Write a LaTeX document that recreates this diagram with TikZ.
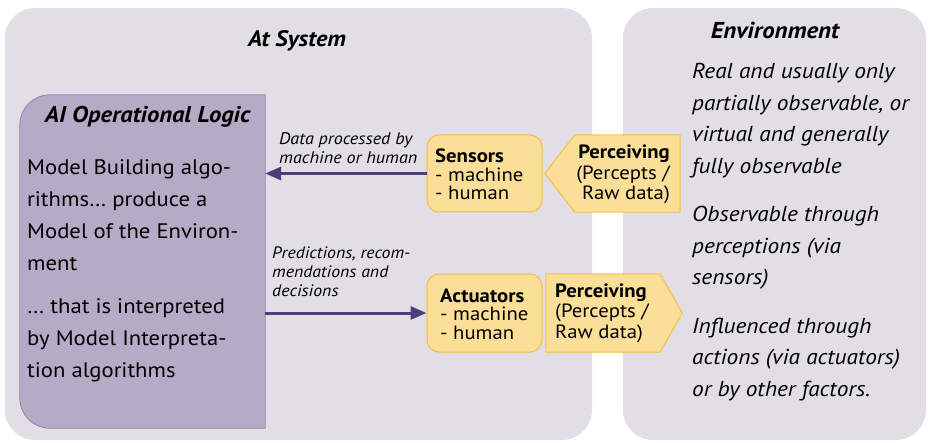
\documentclass[tikz,border=0pt]{standalone}
\usepackage{fontspec}
\setmainfont{PT Sans}[FakeStretch=1.08]
\usetikzlibrary{arrows.meta}
\definecolor{panelc}{HTML}{E1DEE6}
\definecolor{aifill}{HTML}{B4ACC6}
\definecolor{ailine}{HTML}{9286AC}
\definecolor{yfill}{HTML}{FBDE98}
\definecolor{yline}{HTML}{F3C245}
\definecolor{arrowc}{HTML}{4A3F7C}
\newcommand\ptxt[4]{\parbox[t]{#1}{\fontsize{#2}{#3}\selectfont\raggedright #4}}
\newcommand\ptxr[4]{\parbox[t]{#1}{\fontsize{#2}{#3}\selectfont\raggedleft #4}}
\begin{document}
\begin{tikzpicture}[x=1pt,y=1pt,
  panel/.style={fill=panelc, draw=none, rounded corners=30pt},
  ybox/.style={fill=yfill, draw=yline, line width=1pt},
  conn/.style={draw=arrowc, line width=3pt, -{Triangle[length=16pt,width=13pt]}},
  txt/.style={inner sep=0pt, anchor=base west},
  txtr/.style={inner sep=0pt, anchor=base east},
  title/.style={inner sep=0pt, anchor=base, font=\bfseries\itshape\fontsize{22.4}{24}\selectfont},
  shell/.style={inner sep=0pt, draw=none},
]
\useasboundingbox (0,0) rectangle (928,442);
% panels
\fill[panel] (5,2) rectangle (592,434);
\fill[panel] (623,2) rectangle (926,434);
% AI operational logic box
\node[shell, minimum width=245pt, minimum height=333pt] (ai) at (142.5,180.5) {};
\filldraw[fill=aifill, draw=ailine, line width=0.8pt]
  (ai.north east) -- ([xshift=30pt]ai.north west)
  arc[start angle=90, end angle=180, radius=30pt]
  -- ([yshift=30pt]ai.south west)
  arc[start angle=180, end angle=270, radius=30pt]
  -- (ai.south east) -- cycle;
% sensors / actuators
\node[ybox, rounded corners=12pt, minimum width=115pt, minimum height=77pt] (sensors) at (484.5,268.5) {};
\node[ybox, rounded corners=12pt, minimum width=115pt, minimum height=78pt] (actuators) at (484.5,129) {};
% perceiving shapes
\node[shell, minimum width=105pt, minimum height=77pt] (perc1) at (627.5,268.5) {};
\filldraw[ybox] (perc1.north west) -- (perc1.north east) -- (perc1.south east)
  -- (perc1.south west) -- ([xshift=-30pt]perc1.west) -- cycle;
\node[shell, minimum width=114pt, minimum height=78pt] (perc2) at (603,129) {};
\filldraw[ybox] (perc2.north west) -- (perc2.north east) -- ([xshift=22pt]perc2.east)
  -- (perc2.south east) -- (perc2.south west) -- cycle;
% connectors
\draw[conn] (sensors.west) -- (ai.east |- sensors.west);
\draw[conn] (ai.east |- actuators.west) -- (actuators.west);
% titles
\node[title] (atsys) at (297,395) {At System};
\node[title, font=\bfseries\itshape\fontsize{22.8}{24}\selectfont] (ailogic) at (147.5,319) {AI Operational Logic};
\node[title, font=\bfseries\itshape\fontsize{23}{24}\selectfont] (envt) at (775,403) {Environment};
% AI text
\node[txt] (ai1) at (27,267) {\ptxt{300pt}{21}{32}{Model Building algo-\\rithms… produce a\\Model of the Environ-\\ment}};
\node[txt] (ai2) at (27,129) {\ptxt{300pt}{21}{32}{… that is interpreted\\by Model Interpreta-\\tion algorithms}};
% connector labels
\node[txt] (lab1) at (279,297) {\ptxt{200pt}{16.8}{18.5}{\itshape Data processed by\\machine or human}};
\node[txt] (lab2) at (272,183) {\ptxt{200pt}{16.5}{19}{\itshape Predictions, recom-\\mendations and\\decisions}};
% box texts
\node[txt] (sens) at (435,279) {\ptxt{110pt}{19.2}{18.5}{\textbf{Sensors}\\- machine\\- human}};
\node[txt] (act) at (440,140) {\ptxt{110pt}{19.2}{18.5}{\textbf{Actuators}\\- machine\\- human}};
\node[txtr] (p1t) at (670,283) {\ptxr{120pt}{19.2}{20.5}{\textbf{Perceiving}\\(Percepts /\\Raw data)}};
\node[txt] (p2t) at (555,145) {\ptxt{120pt}{19.2}{20.5}{\textbf{Perceiving}\\(Percepts /\\Raw data)}};
% environment texts
\node[txt] (env1) at (692,363) {\ptxt{240pt}{21.6}{31.5}{\itshape Real and usually only\\partially observable, or\\virtual and generally\\fully observable}};
\node[txt] (env2) at (692,220) {\ptxt{240pt}{21.6}{31.5}{\itshape Observable through\\perceptions (via\\sensors)}};
\node[txt] (env3) at (692,109) {\ptxt{240pt}{21.6}{31.5}{\itshape Influenced through\\actions (via actuators)\\or by other factors.}};
\end{tikzpicture}
\end{document}
